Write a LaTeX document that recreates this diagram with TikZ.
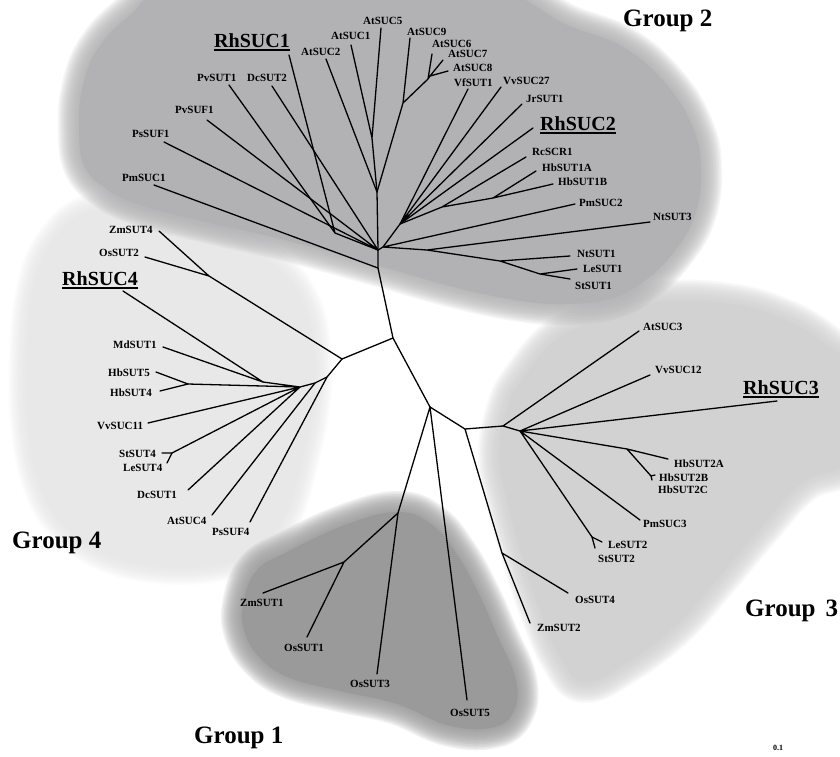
\documentclass[tikz,border=0pt]{standalone}
\usepackage{fontspec}
\setmainfont{Liberation Serif}
\definecolor{gA}{HTML}{9A9A9A}
\definecolor{gB}{HTML}{B2B2B4}
\definecolor{gC}{HTML}{D2D2D2}
\definecolor{gD}{HTML}{E8E8E8}
\newcommand\softblob[2]{%
  \foreach \k in {14,13,...,1}{%
    \pgfmathsetmacro\lw{3*\k}%
    \draw[#1, line width=\lw pt, opacity=0.13, line join=round] #2;}%
  \fill[#1] #2;}
\begin{document}
\begin{tikzpicture}[x=1pt,y=-1pt,
  br/.style={line width=1.3pt, line cap=round, line join=round},
  lab/.style={font=\fontsize{11}{12}\selectfont\bfseries, anchor=base west, inner sep=0pt},
  big/.style={font=\fontsize{20}{22}\selectfont\bfseries, anchor=base west, inner sep=0pt},
  grp/.style={font=\fontsize{25}{28}\selectfont\bfseries, anchor=base west, inner sep=0pt},
  ul/.style={line width=1.5pt}]
\useasboundingbox (0,0) rectangle (840,756);
\fill[white] (0,0) rectangle (840,756);

% ---------- background groups ----------
\softblob{gD}{plot[smooth cycle, tension=0.7] coordinates {(95,214) (160,217) (220,237) (268,265) (298,300) (310,345) (310,400) (298,460) (283,510) (260,543) (220,560) (160,563) (105,550) (67,523) (44,485) (32,430) (30,360) (37,290) (57,242)}}
\softblob{gC}{plot[smooth cycle, tension=0.7] coordinates {(522,380) (560,337) (610,318) (660,302) (730,304) (785,320) (825,344) (855,375) (855,455) (803,482) (760,528) (718,578) (675,626) (626,663) (585,682) (562,660) (540,610) (522,555) (507,500) (499,455) (507,410)}}
\softblob{gA}{plot[smooth cycle, tension=0.7] coordinates {(244,600) (257,570) (287,552) (345,525) (397,512) (431,524) (456,553) (478,592) (498,637) (516,680) (513,713) (490,728) (447,725) (397,704) (340,691) (290,678) (260,658) (244,630)}}
\softblob{gB}{plot[smooth cycle, tension=0.7] coordinates {(175,-15) (130,15) (97,50) (82,90) (79,130) (84,165) (105,188) (140,205) (210,223) (285,240) (380,266) (450,286) (515,300) (565,304) (610,299) (643,282) (673,253) (695,215) (701,170) (693,128) (666,84) (623,47) (565,24) (515,-5) (450,-25) (300,-25)}}

% ---------- internal nodes ----------
\coordinate (nC) at (393,338);
\coordinate (nG2a) at (378,250);
\coordinate (nG2b) at (378,268);
\coordinate (nG2c) at (383,247);
\coordinate (nPv) at (335,233);
\coordinate (nA51) at (372,138);
\coordinate (nA9) at (403,103);
\coordinate (nA678) at (428,79);
\coordinate (nA78) at (430,76);
\coordinate (nAj) at (377,192);
\coordinate (nGb) at (400,224);
\coordinate (nRc) at (442,207);
\coordinate (nHb) at (493,198);
\coordinate (nNtG) at (427,250);
\coordinate (nNt) at (500,261);
\coordinate (nLS) at (540,274);
\coordinate (nG4a) at (342,359);
\coordinate (nZO) at (209,276);
\coordinate (nG4p) at (327,377);
\coordinate (nG4q) at (315,383);
\coordinate (nG4r) at (300,387);
\coordinate (nG4s) at (263,382);
\coordinate (nHb4) at (188,384);
\coordinate (nSL4) at (172,453);
\coordinate (nG1) at (430,407);
\coordinate (nG1a) at (398,513);
\coordinate (nG1b) at (344,562);
\coordinate (nG3) at (465,429);
\coordinate (nG3b) at (503,426);
\coordinate (nG3c) at (520,431);
\coordinate (nOZ) at (502,553);
\coordinate (nHb2) at (627,449);
\coordinate (nHb2bc) at (651,476);
\coordinate (nLS2) at (592,537);

% ---------- leaf ends ----------
\coordinate (eRhSUC1) at (289,55);
\coordinate (ePvSUT1) at (229,85);
\coordinate (eDcSUT2) at (272,86);
\coordinate (ePvSUF1) at (207,120);
\coordinate (ePsSUF1) at (164,142);
\coordinate (ePmSUC1) at (154,185);
\coordinate (eAtSUC5) at (381,28);
\coordinate (eAtSUC1) at (351,45);
\coordinate (eAtSUC2) at (326,59);
\coordinate (eAtSUC9) at (410,38);
\coordinate (eAtSUC6) at (432,54);
\coordinate (eAtSUC7) at (443,60);
\coordinate (eAtSUC8) at (448,71);
\coordinate (eVfSUT1) at (468,89);
\coordinate (eVvSUC27) at (501,87);
\coordinate (eJrSUT1) at (522,104);
\coordinate (eRhSUC2) at (533,128);
\coordinate (eRcSCR1) at (526,157);
\coordinate (eHbSUT1A) at (536,171);
\coordinate (eHbSUT1B) at (553,184);
\coordinate (ePmSUC2) at (575,204);
\coordinate (eNtSUT3) at (650,222);
\coordinate (eNtSUT1) at (570,256);
\coordinate (eLeSUT1) at (577,269);
\coordinate (eStSUT1) at (570,279);
\coordinate (eZmSUT4) at (159,231);
\coordinate (eOsSUT2) at (145,257);
\coordinate (eRhSUC4) at (123,291);
\coordinate (eMdSUT1) at (163,347);
\coordinate (eHbSUT5) at (156,372);
\coordinate (eHbSUT4) at (160,391);
\coordinate (eVvSUC11) at (148,423);
\coordinate (eStSUT4) at (162,453);
\coordinate (eLeSUT4) at (167,463);
\coordinate (eDcSUT1) at (188,490);
\coordinate (eAtSUC4) at (212,515);
\coordinate (ePsSUF4) at (250,522);
\coordinate (eZmSUT1) at (263,593);
\coordinate (eOsSUT1) at (307,637);
\coordinate (eOsSUT3) at (377,674);
\coordinate (eOsSUT5) at (467,700);
\coordinate (eAtSUC3) at (639,331);
\coordinate (eVvSUC12) at (650,375);
\coordinate (eRhSUC3) at (777,401);
\coordinate (eHbSUT2A) at (668,459);
\coordinate (eHbSUT2B) at (655,475);
\coordinate (eHbSUT2C) at (652,480);
\coordinate (ePmSUC3) at (640,520);
\coordinate (eLeSUT2) at (602,542);
\coordinate (eStSUT2) at (595,548);
\coordinate (eOsSUT4) at (568,593);
\coordinate (eZmSUT2) at (530,623);

% ---------- branches ----------
\draw[br] (nG2b) -- (nC) -- (nG1);
\draw[br] (nC) -- (nG4a);
% group 2
\draw[br] (eRhSUC1) -- (nPv) (ePvSUT1) -- (nPv) (nPv) -- (nG2a);
\draw[br] (eDcSUT2) -- (nG2a) (ePvSUF1) -- (nG2a) (ePsSUF1) -- (nG2a);
\draw[br] (eAtSUC5) -- (nA51) (eAtSUC1) -- (nA51) (nA51) -- (nAj);
\draw[br] (eAtSUC9) -- (nA9) (eAtSUC6) -- (nA678) (eAtSUC7) -- (nA78) (eAtSUC8) -- (nA78) (nA78) -- (nA678) (nA678) -- (nA9) (nA9) -- (nAj);
\draw[br] (eAtSUC2) -- (nAj) (nAj) -- (nG2a);
\draw[br] (eVfSUT1) -- (nGb) (eVvSUC27) -- (nGb) (eJrSUT1) -- (nGb) (eRhSUC2) -- (nGb);
\draw[br] (eRcSCR1) -- (nRc) (eHbSUT1A) -- (nHb) (eHbSUT1B) -- (nHb) (nHb) -- (nRc) (nRc) -- (nGb) (nGb) -- (nG2c);
\draw[br] (ePmSUC2) -- (nG2c) (eNtSUT3) -- (nNtG) (eNtSUT1) -- (nNt) (eLeSUT1) -- (nLS) (eStSUT1) -- (nLS) (nLS) -- (nNt) (nNt) -- (nNtG) (nNtG) -- (nG2c) (nG2c) -- (nG2a);
\draw[br] (ePmSUC1) -- (nG2b) (nG2a) -- (nG2b);
% group 4
\draw[br] (nG4a) -- (nZO) (eZmSUT4) -- (nZO) (eOsSUT2) -- (nZO);
\draw[br] (nG4a) -- (nG4p) -- (nG4q) -- (nG4r);
\draw[br] (ePsSUF4) -- (nG4p) (eAtSUC4) -- (nG4q);
\draw[br] (eDcSUT1) -- (nG4r) (nSL4) -- (nG4r) (eVvSUC11) -- (nG4r) (nHb4) -- (nG4r) (nG4s) -- (nG4r);
\draw[br] (eRhSUC4) -- (nG4s) (eMdSUT1) -- (nG4s);
\draw[br] (eHbSUT5) -- (nHb4) (eHbSUT4) -- (nHb4);
\draw[br] (eStSUT4) -- (nSL4) (eLeSUT4) -- (nSL4);
% group 1
\draw[br] (nG1) -- (nG1a) (nG1) -- (eOsSUT5);
\draw[br] (nG1a) -- (eOsSUT3) (nG1a) -- (nG1b);
\draw[br] (nG1b) -- (eZmSUT1) (nG1b) -- (eOsSUT1);
% group 3
\draw[br] (nG1) -- (nG3) (nG3) -- (nG3b) (nG3) -- (nOZ);
\draw[br] (nOZ) -- (eOsSUT4) (nOZ) -- (eZmSUT2);
\draw[br] (nG3b) -- (eAtSUC3) (nG3b) -- (nG3c);
\draw[br] (nG3c) -- (eVvSUC12) (nG3c) -- (eRhSUC3) (nG3c) -- (nHb2) (nG3c) -- (ePmSUC3) (nG3c) -- (nLS2);
\draw[br] (nHb2) -- (eHbSUT2A) (nHb2) -- (nHb2bc) (nHb2bc) -- (eHbSUT2B) (nHb2bc) -- (eHbSUT2C);
\draw[br] (nLS2) -- (eLeSUT2) (nLS2) -- (eStSUT2);

% ---------- labels ----------
\node[big] (lRhSUC1) at (214,47) {RhSUC1};
\draw[ul] ([yshift=-3pt]lRhSUC1.base west) -- ([yshift=-3pt]lRhSUC1.base east);
\node[lab] (lPvSUT1) at (197,81) {PvSUT1};
\node[lab] (lDcSUT2) at (247,81) {DcSUT2};
\node[lab] (lPvSUF1) at (175,113) {PvSUF1};
\node[lab] (lPsSUF1) at (132,137) {PsSUF1};
\node[lab] (lPmSUC1) at (122,181) {PmSUC1};
\node[lab] (lAtSUC5) at (363,24) {AtSUC5};
\node[lab] (lAtSUC1) at (331,39) {AtSUC1};
\node[lab] (lAtSUC2) at (301,55) {AtSUC2};
\node[lab] (lAtSUC9) at (407,35) {AtSUC9};
\node[lab] (lAtSUC6) at (432,47) {AtSUC6};
\node[lab] (lAtSUC7) at (448,57) {AtSUC7};
\node[lab] (lAtSUC8) at (453,71) {AtSUC8};
\node[lab] (lVfSUT1) at (454,86) {VfSUT1};
\node[lab] (lVvSUC27) at (503,84) {VvSUC27};
\node[lab] (lJrSUT1) at (526,102) {JrSUT1};
\node[big] (lRhSUC2) at (540,130) {RhSUC2};
\draw[ul] ([yshift=-3pt]lRhSUC2.base west) -- ([yshift=-3pt]lRhSUC2.base east);
\node[lab] (lRcSCR1) at (532,155) {RcSCR1};
\node[lab] (lHbSUT1A) at (542,171) {HbSUT1A};
\node[lab] (lHbSUT1B) at (558,185) {HbSUT1B};
\node[lab] (lPmSUC2) at (579,206) {PmSUC2};
\node[lab] (lNtSUT3) at (653,220) {NtSUT3};
\node[lab] (lNtSUT1) at (577,257) {NtSUT1};
\node[lab] (lLeSUT1) at (583,272) {LeSUT1};
\node[lab] (lStSUT1) at (575,289) {StSUT1};

\node[lab] (lZmSUT4) at (109,233) {ZmSUT4};
\node[lab] (lOsSUT2) at (99,256) {OsSUT2};
\node[big] (lRhSUC4) at (62,285) {RhSUC4};
\draw[ul] ([yshift=-3pt]lRhSUC4.base west) -- ([yshift=-3pt]lRhSUC4.base east);
\node[lab] (lMdSUT1) at (113,348) {MdSUT1};
\node[lab] (lHbSUT5) at (108,376) {HbSUT5};
\node[lab] (lHbSUT4) at (110,396) {HbSUT4};
\node[lab] (lVvSUC11) at (97,429) {VvSUC11};
\node[lab] (lStSUT4) at (119,457) {StSUT4};
\node[lab] (lLeSUT4) at (123,471) {LeSUT4};
\node[lab] (lDcSUT1) at (137,498) {DcSUT1};
\node[lab] (lAtSUC4) at (167,524) {AtSUC4};
\node[lab] (lPsSUF4) at (212,535) {PsSUF4};

\node[lab] (lZmSUT1) at (240,606) {ZmSUT1};
\node[lab] (lOsSUT1) at (284,651) {OsSUT1};
\node[lab] (lOsSUT3) at (350,687) {OsSUT3};
\node[lab] (lOsSUT5) at (450,716) {OsSUT5};

\node[lab] (lAtSUC3) at (643,330) {AtSUC3};
\node[lab] (lVvSUC12) at (655,373) {VvSUC12};
\node[big] (lRhSUC3) at (743,394) {RhSUC3};
\draw[ul] ([yshift=-3pt]lRhSUC3.base west) -- ([yshift=-3pt]lRhSUC3.base east);
\node[lab] (lHbSUT2A) at (674,467) {HbSUT2A};
\node[lab] (lHbSUT2B) at (659,481) {HbSUT2B};
\node[lab] (lHbSUT2C) at (658,493) {HbSUT2C};
\node[lab] (lPmSUC3) at (643,527) {PmSUC3};
\node[lab] (lLeSUT2) at (608,548) {LeSUT2};
\node[lab] (lStSUT2) at (598,562) {StSUT2};
\node[lab] (lOsSUT4) at (575,603) {OsSUT4};
\node[lab] (lZmSUT2) at (537,631) {ZmSUT2};

\node[grp] (tG2) at (623,26) {Group 2};
\node[grp] (tG4) at (12,548) {Group 4};
\node[grp] (tG1) at (194,743) {Group 1};
\node[grp] (tG3) at (745,616) {Group\hspace{0.4em}3};
\node[font=\fontsize{8}{9}\selectfont\bfseries, anchor=base west, inner sep=0pt] (scale) at (773,750) {0.1};
\end{tikzpicture}
\end{document}
